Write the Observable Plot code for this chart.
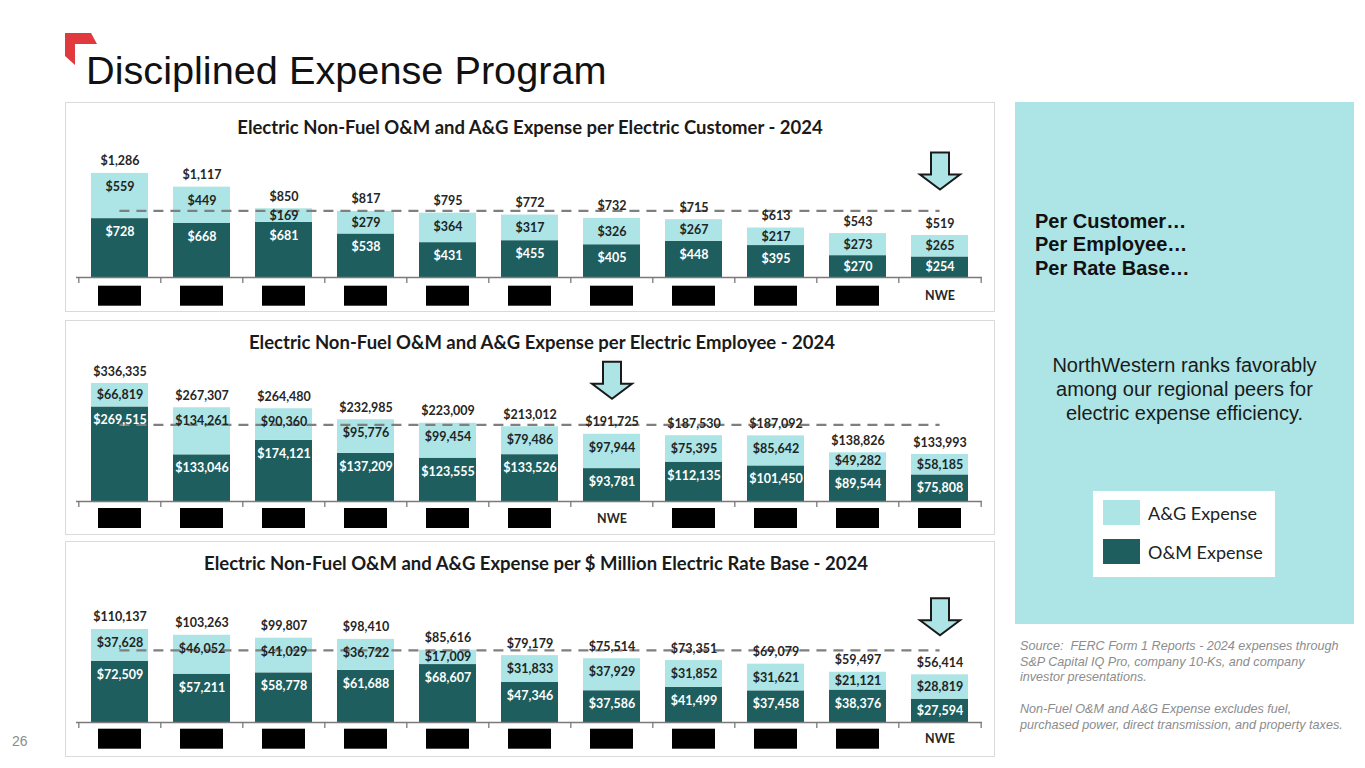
<!DOCTYPE html>
<html><head><meta charset="utf-8">
<script src="https://cdn.jsdelivr.net/npm/d3@7"></script>
<script src="https://cdn.jsdelivr.net/npm/@observablehq/plot@0.6"></script>
<style>
html,body{margin:0;padding:0;background:#fff}
body{width:1365px;height:768px;position:relative;overflow:hidden;font-family:"Liberation Sans",Arial,sans-serif}
.abs{position:absolute}
.frame{position:absolute;left:65px;width:930px;box-sizing:border-box;border:1.5px solid #dadada}
.ptitle{position:absolute;width:800px;text-align:center;font:bold 18.5px Lato,sans-serif;color:#1a1a1a;line-height:20px;white-space:nowrap}
.plot{position:absolute;left:65px}
.plot svg{display:block;overflow:visible}
</style></head>
<body>
<svg class="abs" style="left:0;top:0" width="120" height="80"><polygon points="65,33 91,33 97,44 75,44 75,65 65,56" fill="#e0393e"/></svg>
<div class="abs" style="left:86px;top:48px;font-size:39.7px;color:#111;line-height:44px;white-space:nowrap">Disciplined Expense Program</div>
<div class="abs" style="left:12px;top:733px;font-size:14px;color:#8c8c8c">26</div>

<div class="frame" style="top:102px;height:210px"></div>
<div class="frame" style="top:320px;height:215px"></div>
<div class="frame" style="top:541px;height:216px"></div>
<div class="ptitle" style="left:130px;top:117px">Electric Non-Fuel O&amp;M and A&amp;G Expense per Electric Customer - 2024</div>
<div class="ptitle" style="left:142px;top:332px">Electric Non-Fuel O&amp;M and A&amp;G Expense per Electric Employee - 2024</div>
<div class="ptitle" style="left:136px;top:553px">Electric Non-Fuel O&amp;M and A&amp;G Expense per $ Million Electric Rate Base - 2024</div>
<div id="p1" class="plot" style="top:102px"></div>
<div id="p2" class="plot" style="top:320px"></div>
<div id="p3" class="plot" style="top:541px"></div>

<div class="abs" id="side" style="left:1015px;top:102px;width:339px;height:522px"></div>
<div class="abs" style="left:1035px;top:210px;font-weight:bold;font-size:20px;line-height:23.3px;color:#111;white-space:nowrap">Per Customer…<br>Per Employee…<br>Per Rate Base…</div>
<div class="abs" style="left:1015px;width:339px;top:353px;text-align:center;font-size:20px;line-height:24px;color:#1a1a1a">NorthWestern ranks favorably<br>among our regional peers for<br>electric expense efficiency.</div>
<div class="abs" id="legend" style="left:1093px;top:491px;width:182px;height:86px;background:#fff"></div>
<div class="abs" style="left:1020px;top:639px;font-style:italic;font-size:12.6px;line-height:15.7px;color:#8c8c8c;white-space:pre">Source:  FERC Form 1 Reports - 2024 expenses through
S&amp;P Capital IQ Pro, company 10-Ks, and company
investor presentations.

Non-Fuel O&amp;M and A&amp;G Expense excludes fuel,
purchased power, direct transmission, and property taxes.</div>

<script>
// ---- colours ----
const agColor = "#ade4e5";
const omColor = "#1e5e5e";

// ---- series labels ----
const seriesNames = ["A&G Expense", "O&M Expense"];

// ---- Panel 1: per electric customer ----
const customerCompanies = ["Peer 1","Peer 2","Peer 3","Peer 4","Peer 5","Peer 6","Peer 7","Peer 8","Peer 9","Peer 10","NWE"];
const customerOM    = [728, 668, 681, 538, 431, 455, 405, 448, 395, 270, 254];
const customerAG    = [559, 449, 169, 279, 364, 317, 326, 267, 217, 273, 265];
const customerTotal = [1286, 1117, 850, 817, 795, 772, 732, 715, 613, 543, 519];
const customerPeerAvg = 824;

// ---- Panel 2: per electric employee ----
const employeeCompanies = ["Peer 1","Peer 2","Peer 3","Peer 4","Peer 5","Peer 6","NWE","Peer 7","Peer 8","Peer 9","Peer 10"];
const employeeOM    = [269515, 133046, 174121, 137209, 123555, 133526, 93781, 112135, 101450, 89544, 75808];
const employeeAG    = [66819, 134261, 90360, 95776, 99454, 79486, 97944, 75395, 85642, 49282, 58185];
const employeeTotal = [336335, 267307, 264480, 232985, 223009, 213012, 191725, 187530, 187092, 138826, 133993];
const employeePeerAvg = 218457;

// ---- Panel 3: per $ million electric rate base ----
const rateCompanies = ["Peer 1","Peer 2","Peer 3","Peer 4","Peer 5","Peer 6","Peer 7","Peer 8","Peer 9","Peer 10","NWE"];
const rateOM    = [72509, 57211, 58778, 61688, 68607, 47346, 37586, 41499, 37458, 38376, 27594];
const rateAG    = [37628, 46052, 41029, 36722, 17009, 31833, 37929, 31852, 31621, 21121, 28819];
const rateTotal = [110137, 103263, 99807, 98410, 85616, 79179, 75514, 73351, 69079, 59497, 56414];
const ratePeerAvg = 85385;

const fmt = v => "$" + d3.format(",")(v);

const arrowSymbol = {
  draw(ctx) {
    ctx.moveTo(-9, -18.5); ctx.lineTo(9, -18.5); ctx.lineTo(9, 3.5); ctx.lineTo(20, 3.5);
    ctx.lineTo(0, 18.5); ctx.lineTo(-20, 3.5); ctx.lineTo(-9, 3.5); ctx.closePath();
  }
};

function panel({cats, om, ag, total, avg, yMax, H, mt, mb, arrowDy, boxTop}) {
  const W = 930, ml = 11, mr = 13, pad = 0.31;
  const rows = cats.map((c, i) => ({cat: c, om: om[i], ag: ag[i], total: total[i], top: om[i] + ag[i]}));
  const k = (H - mt - mb) / yMax;
  const step = (W - ml - mr) / cats.length;
  const bw = step * (1 - pad);
  const off = 13.5;
  const lab = (top, seg) => top - Math.min(off, seg * k / 2) / k;
  const peers = rows.filter(d => d.cat !== "NWE");
  const nwe = rows.filter(d => d.cat === "NWE");
  const last = rows.slice(-1);
  const txt = {fontFamily: "Lato, sans-serif", fontWeight: "bold", fontSize: 12.5, lineAnchor: "middle"};
  return Plot.plot({
    width: W, height: H, marginTop: mt, marginBottom: mb, marginLeft: ml, marginRight: mr,
    x: {type: "band", domain: cats, paddingInner: pad, paddingOuter: pad / 2, axis: null},
    y: {domain: [0, yMax], axis: null},
    style: {background: "transparent", overflow: "visible"},
    marks: [
      Plot.barY(rows, {x: "cat", y1: 0, y2: "om", fill: omColor}),
      Plot.barY(rows, {x: "cat", y1: "om", y2: "top", fill: agColor}),
      Plot.ruleY([{avg, a: cats[0], b: cats[cats.length - 1]}], {y: "avg", x1: "a", x2: "b", insetLeft: bw / 2, insetRight: bw / 2, stroke: "#7f7f7f", strokeWidth: 2.4, strokeDasharray: "10,7"}),
      Plot.ruleY([0], {stroke: "#7a7a7a", strokeWidth: 1.3}),
      Plot.ruleX(rows, {x: "cat", y1: 0, y2: 0, insetBottom: -6, dx: -step / 2, stroke: "#7a7a7a", strokeWidth: 1.3}),
      Plot.ruleX(last, {x: "cat", y1: 0, y2: 0, insetBottom: -6, dx: step / 2, stroke: "#7a7a7a", strokeWidth: 1.3}),
      Plot.text(rows, {x: "cat", y: d => lab(d.om, d.om), text: d => fmt(d.om), fill: "#ffffff", ...txt}),
      Plot.text(rows, {x: "cat", y: d => lab(d.top, d.ag), text: d => fmt(d.ag), fill: "#1c2626", ...txt}),
      Plot.text(rows, {x: "cat", y: "total", dy: -12, text: d => fmt(d.total), fill: "#262626", ...txt}),
      Plot.barY(peers, {x: "cat", y1: 0, y2: 0, insetTop: boxTop, insetBottom: -(boxTop + 20), insetLeft: 7, insetRight: 7, fill: "#000"}),
      Plot.text(nwe, {x: "cat", y: 0, dy: boxTop + 10, text: d => d.cat, fill: "#262626", ...txt}),
      Plot.dot(nwe, {x: "cat", y: "total", dy: arrowDy, symbol: arrowSymbol, r: 10, fill: agColor, stroke: "#1a1a1a", strokeWidth: 2})
    ]
  });
}

document.getElementById("p1").append(panel({cats: customerCompanies, om: customerOM, ag: customerAG, total: customerTotal, avg: customerPeerAvg, yMax: 1600, H: 210, mt: 45.6, mb: 35, arrowDy: -64.5, boxTop: 8.7}));
document.getElementById("p2").append(panel({cats: employeeCompanies, om: employeeOM, ag: employeeAG, total: employeeTotal, avg: employeePeerAvg, yMax: 400000, H: 215, mt: 40.7, mb: 34, arrowDy: -54, boxTop: 7}));
document.getElementById("p3").append(panel({cats: rateCompanies, om: rateOM, ag: rateAG, total: rateTotal, avg: ratePeerAvg, yMax: 130000, H: 216, mt: 71.2, mb: 35, arrowDy: -58, boxTop: 6.7}));

document.getElementById("side").style.background = agColor;

// legend
const legend = document.getElementById("legend");
const swatchColors = [agColor, omColor];
seriesNames.forEach((name, i) => {
  const top = [9, 48][i];
  const sw = document.createElement("div");
  sw.style.cssText = `position:absolute;left:10px;top:${top}px;width:37px;height:25px;background:${swatchColors[i]}`;
  const lb = document.createElement("div");
  lb.textContent = name;
  lb.style.cssText = `position:absolute;left:55px;top:${top + 1}px;font:18px Lato,sans-serif;line-height:24px;color:#222;white-space:nowrap`;
  legend.append(sw, lb);
});
</script>
</body></html>
